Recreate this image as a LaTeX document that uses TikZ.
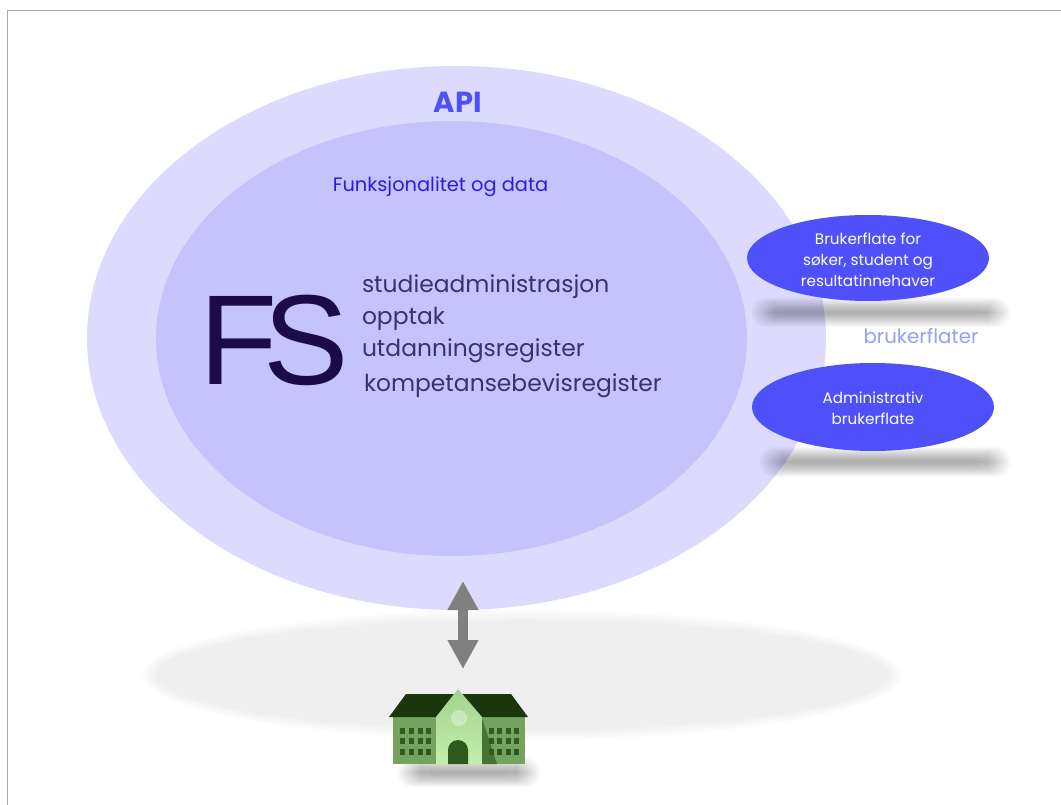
\documentclass[tikz,border=0pt]{standalone}
\usepackage{fontspec}
\setmainfont{Poppins}
\newfontfamily\fsfont{Liberation Sans}
\usetikzlibrary{arrows.meta,shapes.geometric}
\definecolor{frameC}{HTML}{ADA9AA}
\definecolor{outerC}{HTML}{DCDBFD}
\definecolor{innerC}{HTML}{C4C3FB}
\definecolor{blueC}{HTML}{5050FA}
\definecolor{funcC}{HTML}{2A1FD8}
\definecolor{fsC}{HTML}{1B0B4B}
\definecolor{listC}{HTML}{3A3170}
\definecolor{flatC}{HTML}{9C9CF8}
\definecolor{arrowC}{HTML}{808080}
\definecolor{roofC}{HTML}{1A360C}
\definecolor{wallC}{HTML}{74A360}
\definecolor{midtopC}{HTML}{A4D290}
\definecolor{midbotC}{HTML}{C2F0AA}
\definecolor{winC}{HTML}{2F5A1E}
% soft shadow: x1 y1 x2 y2 (outer box), steps, opacity per step
\newcommand{\softbar}[6]{%
  \foreach \k in {1,...,#5}{
    \fill[black,opacity=#6,rounded corners=14pt] (#1+\k*1.8,#2+\k) rectangle (#3-\k*1.8,#4-\k);
  }}
\tikzset{
  every node/.style={inner sep=0pt,outer sep=0pt},
  listtext/.style={anchor=base west,text=listC,font=\fontsize{23.4}{24}\selectfont},
  whitetext/.style={text=white,align=center,font=\fontsize{15.2}{21}\selectfont},
  bothway/.style={draw=arrowC,line width=10pt,{Triangle[length=29pt,width=29pt]}-{Triangle[length=29pt,width=29pt]}},
}
\begin{document}
\begin{tikzpicture}[x=1pt,y=-1pt]
\useasboundingbox (0,0) rectangle (1061,805);
\fill[white] (0,0) rectangle (1061,805);
\draw[frameC,line width=1.3pt] (7.5,805) -- (7.5,10.5) -- (1061,10.5);
% ground shadow
\foreach \k in {0,...,7}{
  \fill[black,opacity=0.008] (522,675) ellipse [x radius={380-\k*2},y radius={66-\k*1.6}];
}
% API ellipse and inner one
\node[ellipse,fill=outerC,minimum width=739pt,minimum height=544pt] (api) at (456.5,338) {};
\node[ellipse,fill=innerC,minimum width=591pt,minimum height=435pt] (core) at (451.5,338.5) {};
% texts inside
\node[text=blueC,font=\fontsize{29}{29}\selectfont\bfseries] (apilabel) at (458,102) {API};
\node[text=funcC,font=\fontsize{19.4}{20}\selectfont] (func) at (440.5,187) {Funksjonalitet og data};
\node[text=fsC,anchor=center,font=\fsfont\fontsize{128}{128}\selectfont] (fs) at (274,340) {F\kern-14ptS};
\node[listtext] (l1) at (362,293) {studieadministrasjon};
\node[listtext] (l2) at (362,324) {opptak};
\node[listtext] (l3) at (362,356) {utdanningsregister};
\node[listtext] (l4) at (364,391) {kompetansebevisregister};
% ellipse shadows
\softbar{750}{297}{1012}{328}{14}{0.023}
\softbar{758}{446}{1012}{478}{14}{0.023}
% surfaces
\node[ellipse,fill=blueC,minimum width=242pt,minimum height=86pt] (uf1) at (868,258) {};
\node[whitetext] (uf1t) at (868,260) {Brukerflate for\\søker, student og\\resultatinnehaver};
\node[ellipse,fill=blueC,minimum width=242pt,minimum height=88pt] (uf2) at (873,407) {};
\node[whitetext] (uf2t) at (873,408.5) {Administrativ\\brukerflate};
\node[text=flatC,font=\fontsize{19.8}{20}\selectfont] (flat) at (921,336) {brukerflater};
% building shadow
\softbar{396}{757}{542}{788}{14}{0.023}
% arrow
\coordinate (at) at (463,581);
\coordinate (ab) at (463,669);
\draw[bothway] (at) -- (ab);
% building
\fill[wallC] (393,715) rectangle (525,764);
\fill[roofC] (389,717) -- (406,694) -- (511,694) -- (528,717) -- cycle;
\shade[top color=midtopC,bottom color=midbotC] (458,689) -- (436,717) -- (436,764) -- (482,764) -- (482,717) -- cycle;
\fill[winC!65!wallC] (482,718) -- (497,764) -- (482,764) -- cycle;
\fill[white,opacity=0.35] (459,718) circle (8);
\fill[winC] (448,764) -- (448,750) arc (180:360:10) -- (468,764) -- cycle;
\foreach \yy in {730.5,741,751.5}{
  \foreach \xx in {402,411,420,428,491,499,508,516}{
    \fill[winC] (\xx-2.5,\yy-3) rectangle (\xx+2.5,\yy+3);
  }
}
\end{tikzpicture}
\end{document}
